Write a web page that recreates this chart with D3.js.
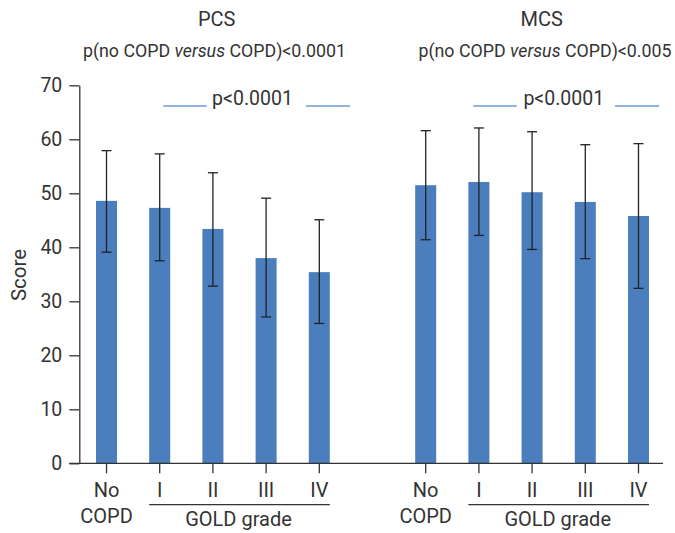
<!DOCTYPE html>
<html>
<head>
<meta charset="utf-8">
<script src="https://cdn.jsdelivr.net/npm/d3@7"></script>
<style>
  html, body { margin: 0; padding: 0; background: #fff; }
  svg { display: block; font-family: Roboto, "DejaVu Sans", sans-serif; }
</style>
</head>
<body>
<svg id="chart" width="675" height="533"></svg>
<script>
// ---- data ----
const slots = ["PCS-No", "PCS-I", "PCS-II", "PCS-III", "PCS-IV", "gap",
               "MCS-No", "MCS-I", "MCS-II", "MCS-III", "MCS-IV"];
const tickLabels = [["No", "COPD"], ["I"], ["II"], ["III"], ["IV"], null,
                    ["No", "COPD"], ["I"], ["II"], ["III"], ["IV"]];
const pcsMean  = [48.6, 47.3, 43.4, 38.0, 35.4];
const pcsUpper = [57.9, 57.3, 53.8, 49.1, 45.1];
const pcsLower = [39.1, 37.5, 32.8, 27.1, 25.9];
const mcsMean  = [51.5, 52.1, 50.2, 48.4, 45.8];
const mcsUpper = [61.6, 62.1, 61.4, 59.0, 59.2];
const mcsLower = [41.4, 42.2, 39.6, 37.9, 32.4];
const yTicks = [0, 10, 20, 30, 40, 50, 60, 70];
const panelTitles = ["PCS", "MCS"];
const panelPvals = ["<0.0001", "<0.005"];
const trendP = "p<0.0001";
const groupLabel = "GOLD grade";
const yLabel = "Score";

// ---- build rows ----
const rows = [];
pcsMean.forEach((m, i) => rows.push({slot: slots[i], mean: m, lo: pcsLower[i], hi: pcsUpper[i]}));
mcsMean.forEach((m, i) => rows.push({slot: slots[i + 6], mean: m, lo: mcsLower[i], hi: mcsUpper[i]}));

const svg = d3.select("#chart");
const ink = "#333333";
const barColor = "#4a7ebc";
const lineBlue = "#6b98d2";

const x = d3.scaleBand().domain(slots).range([79.3, 665.7]).paddingInner(0.605).paddingOuter(0.314);
const y = d3.scaleLinear().domain([0, 70]).range([463.3, 85.3]);
const cx = s => x(s) + x.bandwidth() / 2;

// bars
svg.append("g").selectAll("rect").data(rows).join("rect")
  .attr("x", d => x(d.slot)).attr("width", x.bandwidth())
  .attr("y", d => y(d.mean)).attr("height", d => y(0) - y(d.mean))
  .attr("fill", barColor);

// error bars
const eb = svg.append("g").attr("stroke", "#222").attr("stroke-width", 1.3).attr("fill", "none");
rows.forEach(d => {
  const c = cx(d.slot);
  eb.append("line").attr("x1", c).attr("x2", c).attr("y1", y(d.hi)).attr("y2", y(d.lo));
  eb.append("line").attr("x1", c - 5).attr("x2", c + 5).attr("y1", y(d.hi)).attr("y2", y(d.hi));
  eb.append("line").attr("x1", c - 5).attr("x2", c + 5).attr("y1", y(d.lo)).attr("y2", y(d.lo));
});

// y axis
const yAxis = svg.append("g").attr("transform", "translate(79.3,0)")
  .call(d3.axisLeft(y).tickValues(yTicks).tickSize(10).tickPadding(7).tickSizeOuter(0));
yAxis.select(".domain").attr("stroke", ink).attr("stroke-width", 1.3);
yAxis.selectAll(".tick line").attr("stroke", ink).attr("stroke-width", 1.3);
yAxis.selectAll(".tick text").attr("fill", ink).attr("font-size", 19.5).attr("font-family", "Roboto");

// x axis
const xAxis = svg.append("g").attr("transform", `translate(0,${y(0)})`)
  .call(d3.axisBottom(x).tickValues(slots.filter(s => s !== "gap")).tickSize(10).tickFormat(""));
xAxis.select(".domain").remove();
xAxis.append("line").attr("x1", 69.3).attr("x2", 663).attr("y1", 0).attr("y2", 0)
  .attr("stroke", ink).attr("stroke-width", 1.3);
xAxis.selectAll(".tick line").attr("stroke", ink).attr("stroke-width", 1.3);

// x tick labels
const xl = svg.append("g").attr("fill", ink).attr("font-size", 20).attr("text-anchor", "middle");
slots.forEach((s, i) => {
  const lab = tickLabels[i];
  if (!lab) return;
  lab.forEach((t, j) => {
    xl.append("text").attr("x", cx(s)).attr("y", 496.7 + j * 26).text(t);
  });
});

// GOLD grade brackets
[[1, 4], [7, 10]].forEach(([a, b]) => {
  const x1 = x(slots[a]), x2 = x(slots[b]) + x.bandwidth();
  svg.append("line").attr("x1", x1).attr("x2", x2).attr("y1", 504.7).attr("y2", 504.7)
    .attr("stroke", ink).attr("stroke-width", 1.2);
  svg.append("text").attr("x", (x1 + x2) / 2 - 1).attr("y", 526).attr("text-anchor", "middle")
    .attr("fill", ink).attr("font-size", 20).text(groupLabel);
});

// y label
svg.append("text").attr("transform", "translate(26,275) rotate(-90)").attr("text-anchor", "middle")
  .attr("fill", ink).attr("font-size", 20.5).text(yLabel);

// panel titles
const titleCenters = [216.7, 541.7];
const subCenters = [214.5, 545];
panelTitles.forEach((t, i) => {
  svg.append("text").attr("x", titleCenters[i]).attr("y", 26).attr("text-anchor", "middle")
    .attr("fill", ink).attr("font-size", 20).text(t);
  const st = svg.append("text").attr("x", subCenters[i]).attr("y", 57).attr("text-anchor", "middle")
    .attr("fill", ink).attr("font-size", 17.8);
  st.append("tspan").text("p(no COPD ");
  st.append("tspan").attr("font-style", "italic").text("versus");
  st.append("tspan").text(" COPD)" + panelPvals[i]);
});

// trend p-values with blue lines
[[1, 4], [7, 10]].forEach(([a, b], i) => {
  const centers = [252.5, 563.8];
  const c = centers[i];
  svg.append("text").attr("x", c).attr("y", 105.3).attr("text-anchor", "middle")
    .attr("fill", ink).attr("font-size", 19.5).text(trendP);
  const segs = i === 0 ? [[163.3, 206.7], [306, 350]] : [[473.3, 516.7], [615, 659]];
  segs.forEach(([s, e]) => svg.append("line").attr("x1", s).attr("x2", e).attr("y1", 106).attr("y2", 106)
    .attr("stroke", lineBlue).attr("stroke-width", 1.3));
});
</script>
</body>
</html>
